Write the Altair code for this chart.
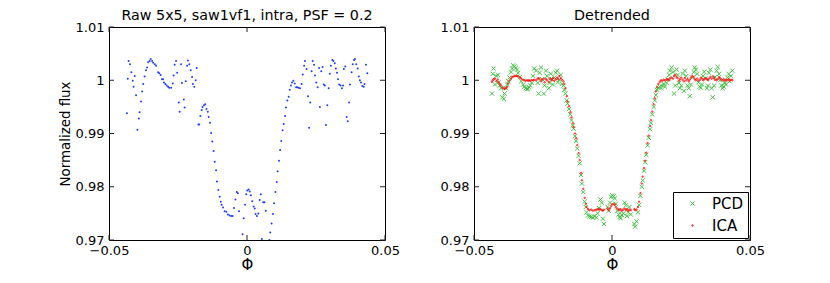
import altair as alt
import pandas as pd

# ---------------- data ----------------
phase = [
    -0.0435, -0.0432, -0.0429, -0.0424, -0.0419, -0.0414, -0.0411, -0.0407, -0.0402, -0.0397,
    -0.0392, -0.0389, -0.0384, -0.0380, -0.0376, -0.0371, -0.0366, -0.0362, -0.0358, -0.0353,
    -0.0349, -0.0344, -0.0340, -0.0334, -0.0329, -0.0322, -0.0318, -0.0313, -0.0308, -0.0304,
    -0.0301, -0.0296, -0.0291, -0.0286, -0.0282, -0.0275, -0.0269, -0.0266, -0.0262, -0.0257,
    -0.0253, -0.0247, -0.0244, -0.0239, -0.0236, -0.0229, -0.0226, -0.0222, -0.0217, -0.0214,
    -0.0209, -0.0204, -0.0199, -0.0196, -0.0191, -0.0186, -0.0182, -0.0176, -0.0173, -0.0169,
    -0.0164, -0.0161, -0.0156, -0.0151, -0.0147, -0.0142, -0.0139, -0.0134, -0.0130, -0.0126,
    -0.0121, -0.0117, -0.0112, -0.0109, -0.0104, -0.0099, -0.0095, -0.0092, -0.0087, -0.0081,
    -0.0075, -0.0069, -0.0063, -0.0057, -0.0052, -0.0047, -0.0042, -0.0037, -0.0033, -0.0029,
    -0.0016, -0.0012, -0.0007, -0.0003, 0.0001, 0.0006, 0.0010, 0.0014, 0.0019, 0.0024,
    0.0028, 0.0031, 0.0036, 0.0041, 0.0046, 0.0050, 0.0054, 0.0059, 0.0063, 0.0068,
    0.0081, 0.0084, 0.0089, 0.0094, 0.0098, 0.0103, 0.0108, 0.0111, 0.0116, 0.0120,
    0.0124, 0.0129, 0.0133, 0.0138, 0.0141, 0.0146, 0.0151, 0.0155, 0.0159, 0.0163,
    0.0168, 0.0173, 0.0178, 0.0182, 0.0187, 0.0192, 0.0198, 0.0202, 0.0207, 0.0210,
    0.0216, 0.0221, 0.0225, 0.0229, 0.0234, 0.0238, 0.0243, 0.0246, 0.0251, 0.0256,
    0.0261, 0.0264, 0.0269, 0.0274, 0.0278, 0.0282, 0.0286, 0.0291, 0.0296, 0.0300,
    0.0304, 0.0309, 0.0313, 0.0318, 0.0322, 0.0326, 0.0330, 0.0334, 0.0339, 0.0344,
    0.0348, 0.0351, 0.0356, 0.0361, 0.0365, 0.0370, 0.0373, 0.0379, 0.0383, 0.0388,
    0.0391, 0.0396, 0.0401, 0.0405, 0.0409, 0.0413, 0.0418, 0.0423, 0.0426, 0.0431, 0.0436,
]

raw_flux = [
    0.9938, 1.0003, 1.0036, 1.0030, 1.0015, 0.9999, 0.9988, 1.0008, 0.9972, 0.9907,
    0.9928, 0.9940, 0.9960, 0.9979, 0.9993, 1.0007, 1.0019, 1.0024, 1.0034, 1.0036,
    1.0040, 1.0036, 1.0033, 1.0030, 1.0027, 1.0015, 1.0013, 1.0010, 1.0002, 1.0002,
    0.9996, 0.9993, 0.9990, 0.9988, 0.9986, 0.9986, 0.9994, 1.0009, 1.0029, 1.0036,
    1.0014, 0.9958, 0.9941, 1.0030, 0.9995, 0.9964, 0.9949, 0.9998, 1.0027, 1.0037,
    1.0030, 1.0019, 1.0006, 0.9993, 0.9988, 1.0000, 1.0023, 0.9917, 0.9917, 0.9933,
    0.9944, 0.9950, 0.9953, 0.9955, 0.9946, 0.9941, 0.9931, 0.9920, 0.9901, 0.9885,
    0.9867, 0.9847, 0.9831, 0.9810, 0.9794, 0.9781, 0.9772, 0.9766, 0.9761, 0.9754,
    0.9753, 0.9748, 0.9746, 0.9745, 0.9745, 0.9760, 0.9776, 0.9790, 0.9788, 0.9754,
    0.9711, 0.9741, 0.9766, 0.9786, 0.9793, 0.9795, 0.9791, 0.9784, 0.9773, 0.9763,
    0.9759, 0.9749, 0.9745, 0.9750, 0.9775, 0.9786, 0.9702, 0.9771, 0.9771, 0.9755,
    0.9700, 0.9714, 0.9731, 0.9749, 0.9769, 0.9790, 0.9809, 0.9829, 0.9849, 0.9869,
    0.9886, 0.9906, 0.9918, 0.9933, 0.9949, 0.9962, 0.9969, 0.9982, 0.9990, 0.9996,
    0.9999, 0.9994, 0.9987, 0.9987, 0.9986, 0.9985, 0.9993, 1.0011, 1.0027, 1.0036,
    1.0021, 0.9970, 0.9911, 0.9958, 1.0017, 1.0036, 1.0029, 1.0009, 0.9996, 0.9987,
    1.0023, 0.9950, 1.0017, 1.0025, 0.9992, 0.9990, 0.9916, 0.9953, 0.9985, 1.0012,
    1.0027, 1.0038, 1.0036, 1.0032, 1.0022, 1.0014, 1.0002, 0.9992, 0.9990, 0.9985,
    0.9990, 1.0021, 1.0026, 0.9931, 0.9923, 0.9958, 0.9992, 1.0015, 1.0030, 1.0038,
    1.0040, 1.0030, 1.0022, 1.0007, 1.0000, 0.9996, 0.9989, 0.9988, 0.9993, 1.0029, 1.0013,
]

ica_flux = [
    0.9997, 1.0000, 1.0002, 1.0003, 0.9998, 1.0001, 0.9996, 0.9993, 0.9990, 0.9986,
    0.9985, 0.9984, 0.9985, 0.9988, 0.9994, 0.9999, 1.0003, 1.0006, 1.0007, 1.0008,
    1.0008, 1.0008, 1.0007, 1.0005, 1.0003, 1.0001, 1.0000, 0.9999, 1.0000, 0.9999,
    1.0000, 0.9999, 1.0000, 1.0000, 1.0001, 1.0000, 1.0003, 1.0004, 1.0002, 0.9998,
    1.0001, 1.0003, 0.9996, 1.0002, 1.0000, 0.9997, 1.0003, 1.0002, 1.0000, 1.0004,
    0.9999, 1.0002, 1.0005, 1.0002, 1.0008, 1.0004, 1.0001, 0.9998, 0.9993, 0.9985,
    0.9970, 0.9960, 0.9951, 0.9940, 0.9930, 0.9919, 0.9912, 0.9900, 0.9891, 0.9878,
    0.9863, 0.9850, 0.9826, 0.9812, 0.9796, 0.9779, 0.9768, 0.9762, 0.9758, 0.9756,
    0.9757, 0.9755, 0.9756, 0.9757, 0.9758, 0.9757, 0.9758, 0.9756, 0.9755, 0.9757,
    0.9759, 0.9756, 0.9760, 0.9764, 0.9767, 0.9768, 0.9766, 0.9762, 0.9759, 0.9757,
    0.9756, 0.9758, 0.9755, 0.9757, 0.9759, 0.9756, 0.9758, 0.9755, 0.9757, 0.9756,
    0.9758, 0.9756, 0.9757, 0.9762, 0.9772, 0.9788, 0.9806, 0.9819, 0.9835, 0.9849,
    0.9864, 0.9882, 0.9896, 0.9914, 0.9925, 0.9941, 0.9955, 0.9966, 0.9979, 0.9987,
    0.9993, 0.9997, 1.0000, 0.9999, 1.0001, 1.0000, 1.0002, 1.0001, 1.0000, 1.0003,
    1.0005, 1.0003, 1.0008, 1.0010, 1.0006, 1.0004, 0.9999, 1.0002, 1.0005, 1.0001,
    0.9998, 1.0004, 1.0000, 1.0002, 0.9998, 1.0001, 1.0005, 1.0008, 1.0006, 1.0002,
    1.0000, 1.0003, 0.9999, 1.0001, 1.0005, 1.0003, 1.0000, 1.0002, 1.0004, 1.0002,
    1.0000, 1.0003, 1.0006, 1.0003, 1.0007, 1.0004, 1.0001, 1.0000, 1.0002, 1.0006,
    1.0004, 1.0001, 1.0000, 1.0002, 0.9999, 1.0001, 1.0000, 1.0002, 0.9999, 1.0001, 1.0000,
]

pcd_flux = [
    0.9975, 1.0012, 1.0022, 0.9992, 1.0008, 1.0010, 0.9996, 0.9990, 0.9985, 0.9968,
    0.9965, 0.9975, 0.9985, 0.9992, 0.9998, 1.0005, 1.0015, 1.0022, 1.0028, 1.0026,
    1.0023, 1.0020, 1.0014, 1.0006, 0.9998, 0.9992, 0.9988, 0.9985, 0.9983, 0.9984,
    0.9987, 0.9990, 0.9995, 1.0008, 1.0022, 1.0018, 0.9995, 0.9975, 1.0014, 1.0024,
    1.0002, 0.9975, 0.9990, 1.0018, 1.0008, 0.9985, 0.9995, 1.0012, 1.0002, 0.9992,
    1.0005, 1.0014, 1.0018, 0.9996, 1.0001, 1.0010, 0.9993, 0.9990, 0.9982, 0.9975,
    0.9962, 0.9956, 0.9946, 0.9936, 0.9925, 0.9915, 0.9909, 0.9895, 0.9886, 0.9872,
    0.9858, 0.9844, 0.9822, 0.9806, 0.9790, 0.9772, 0.9762, 0.9752, 0.9746, 0.9744,
    0.9743, 0.9742, 0.9745, 0.9742, 0.9750, 0.9760, 0.9776, 0.9770, 0.9740, 0.9730,
    0.9762, 0.9755, 0.9770, 0.9781, 0.9784, 0.9782, 0.9778, 0.9768, 0.9755, 0.9748,
    0.9743, 0.9741, 0.9747, 0.9750, 0.9770, 0.9765, 0.9745, 0.9752, 0.9762, 0.9748,
    0.9730, 0.9725, 0.9735, 0.9752, 0.9766, 0.9783, 0.9800, 0.9812, 0.9830, 0.9846,
    0.9860, 0.9878, 0.9892, 0.9908, 0.9920, 0.9936, 0.9950, 0.9962, 0.9972, 0.9982,
    0.9986, 0.9988, 0.9985, 0.9990, 0.9993, 0.9988, 0.9995, 1.0002, 1.0010, 1.0018,
    1.0024, 1.0015, 0.9975, 0.9990, 1.0020, 1.0010, 0.9995, 0.9985, 0.9990, 1.0012,
    0.9980, 1.0018, 1.0008, 0.9990, 0.9985, 0.9970, 0.9992, 1.0005, 1.0015, 1.0024,
    1.0020, 1.0012, 0.9996, 0.9988, 0.9986, 0.9992, 1.0008, 1.0016, 1.0004, 0.9985,
    0.9990, 1.0014, 1.0020, 0.9985, 0.9968, 0.9990, 1.0006, 1.0018, 1.0025, 1.0012,
    1.0000, 0.9990, 0.9985, 0.9988, 0.9995, 0.9992, 1.0005, 1.0012, 0.9998, 1.0008, 1.0018,
]

series_names = ["PCD", "ICA"]
series_colors = ["#33bb33", "#ff0000"]
x_ticks = [-0.05, 0.0, 0.05]
y_ticks = [0.97, 0.98, 0.99, 1.00, 1.01]
left_title = "Raw 5x5, saw1vf1, intra, PSF = 0.2"
right_title = "Detrended"
x_label = "Φ"
y_label = "Normalized flux"

# ---------------- tables ----------------
left_df = pd.DataFrame({"phase": phase, "flux": raw_flux})
right_df = pd.concat([
    pd.DataFrame({"phase": phase, "flux": pcd_flux, "series": "PCD"}),
    pd.DataFrame({"phase": phase, "flux": ica_flux, "series": "ICA"}),
], ignore_index=True)
xt_df = pd.DataFrame({"t": x_ticks})
yt_df = pd.DataFrame({"t": y_ticks})

# ---------------- styling ----------------
W, H = 276, 213
FONT = "DejaVu Sans"
TICK = 5

xscale = alt.Scale(domain=[-0.05, 0.05], nice=False, zero=False)
yscale = alt.Scale(domain=[0.97, 1.01], nice=False, zero=False)

x_axis = alt.Axis(
    values=x_ticks, title=x_label,
    labelExpr="datum.value == 0 ? '0' : format(datum.value, '.2f')",
    domain=False, ticks=False, grid=False, labelFlush=False,
    labelFont=FONT, labelFontSize=13, labelColor="black", labelPadding=4,
    titleFont=FONT, titleFontSize=15, titleColor="black", titleFontWeight="normal",
    titlePadding=0,
)


def y_axis(title):
    return alt.Axis(
        values=y_ticks, title=title,
        labelExpr="datum.value == 1 ? '1' : format(datum.value, '.2f')",
        domain=False, ticks=False, grid=False, labelFlush=False,
        labelFont=FONT, labelFontSize=13, labelColor="black", labelPadding=5,
        titleFont=FONT, titleFontSize=13.4, titleColor="black", titleFontWeight="normal",
        titlePadding=3,
    )


def tick_layers(yax):
    rule = dict(color="#222222", strokeWidth=1)
    top = alt.Chart(xt_df).mark_rule(**rule).encode(
        x=alt.X("t:Q", scale=xscale, axis=x_axis), y=alt.value(0), y2=alt.value(TICK))
    bottom = alt.Chart(xt_df).mark_rule(**rule).encode(
        x=alt.X("t:Q", scale=xscale, axis=x_axis), y=alt.value(H), y2=alt.value(H - TICK))
    left = alt.Chart(yt_df).mark_rule(**rule).encode(
        y=alt.Y("t:Q", scale=yscale, axis=yax), x=alt.value(0), x2=alt.value(TICK))
    right = alt.Chart(yt_df).mark_rule(**rule).encode(
        y=alt.Y("t:Q", scale=yscale, axis=yax), x=alt.value(W), x2=alt.value(W - TICK))
    return [top, bottom, left, right]


title_params = dict(font=FONT, fontSize=14.3, fontWeight="normal", color="black",
                    anchor="middle", offset=-2)

# ---------------- left panel ----------------
yax_left = y_axis(y_label)
left_pts = alt.Chart(left_df).mark_circle(size=4, color="#1f3cff", opacity=1, clip=True).encode(
    x=alt.X("phase:Q", scale=xscale, axis=x_axis),
    y=alt.Y("flux:Q", scale=yscale, axis=yax_left),
)
left = alt.layer(left_pts, *tick_layers(yax_left)).properties(
    width=W, height=H, title=alt.TitleParams(left_title, **title_params))

# ---------------- right panel ----------------
yax_right = y_axis("")
xpath = "M-1,-1L1,1M-1,1L1,-1"
legend = alt.Legend(
    title=None, orient="bottom-right", offset=2, padding=4,
    strokeColor="black", fillColor="white", cornerRadius=0,
    labelFont=FONT, labelFontSize=15, labelColor="black", labelOffset=12,
    rowPadding=6, symbolOffset=8, symbolStrokeWidth=1,
)
right_pts = alt.Chart(right_df).mark_point(filled=False, strokeWidth=0.9, clip=True, opacity=1).encode(
    x=alt.X("phase:Q", scale=xscale, axis=x_axis),
    y=alt.Y("flux:Q", scale=yscale, axis=yax_right),
    color=alt.Color("series:N", scale=alt.Scale(domain=series_names, range=series_colors), legend=legend),
    shape=alt.Shape("series:N", scale=alt.Scale(domain=series_names, range=[xpath, "circle"]), legend=legend),
    size=alt.Size("series:N", scale=alt.Scale(domain=series_names, range=[18, 2]), legend=legend),
    order=alt.Order("order:Q"),
).transform_calculate(order="datum.series == 'PCD' ? 0 : 1")
right = alt.layer(right_pts, *tick_layers(yax_right)).properties(
    width=W, height=H, title=alt.TitleParams(right_title, **title_params))

chart = alt.hconcat(left, right, spacing=89, bounds="flush").resolve_legend(
    color="independent", shape="independent", size="independent"
).properties(
    padding={"left": 49, "top": 0, "right": 5, "bottom": 0},
    background="white",
).configure_view(stroke="black", strokeWidth=1)

chart.save("out.html", embed_options={"renderer": "svg", "actions": False})
